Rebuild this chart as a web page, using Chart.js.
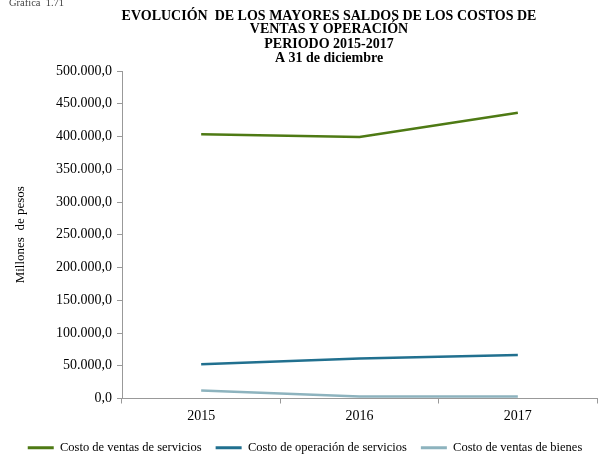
<!DOCTYPE html>
<html>
<head>
<meta charset="utf-8">
<script src="https://cdn.jsdelivr.net/npm/chart.js@4/dist/chart.umd.min.js"></script>
<style>
  html, body { margin: 0; padding: 0; background: #fff; }
  #wrap { position: relative; width: 603px; height: 460px; }
</style>
</head>
<body>
<div id="wrap"><canvas id="costos-chart" width="603" height="460"></canvas></div>
<script>
// years on the x axis
let years = ['2015', '2016', '2017']

// balances in millions of pesos
let ventasServicios = [403500, 399400, 436400]
let operacionServicios = [52300, 61000, 66600]
let ventasBienes = [12200, 3000, 3000]

let seriesNames = ['Costo de ventas de servicios', 'Costo de operación de servicios', 'Costo de ventas de bienes']
let seriesColors = ['#4e7a14', '#21708f', '#8db3be']

let titleLines = [
    'EVOLUCIÓN  DE LOS MAYORES SALDOS DE LOS COSTOS DE',
    'VENTAS Y OPERACIÓN',
    'PERIODO 2015-2017',
    'A 31 de diciembre'
]

let serif = '"Liberation Serif", "Times New Roman", serif'

// 500000 -> "500.000,0"
function formatPesos(value) {
    let parts = Number(value).toFixed(1).split('.')
    let whole = parts[0].replace(/\B(?=(\d{3})+(?!\d))/g, '.')
    return whole + ',' + parts[1]
}

// draws the caption and the four title lines above the plot
let titlePlugin = {
    id: 'titleLines',
    afterDraw(chart) {
        let ctx = chart.ctx
        ctx.save()
        ctx.fillStyle = '#444'
        ctx.font = '10.5px ' + serif
        ctx.textAlign = 'left'
        ctx.textBaseline = 'middle'
        ctx.fillText('Gráfica  1.71', 9, 3)

        ctx.fillStyle = '#000'
        ctx.font = 'bold 14px ' + serif
        ctx.textAlign = 'center'
        let ys = [16, 29, 44, 58]
        titleLines.forEach(function(line, i) {
            ctx.fillText(line, 329, ys[i])
        })
        ctx.restore()
    }
}

let datasets = [ventasServicios, operacionServicios, ventasBienes].map(function(values, i) {
    return {
        label: seriesNames[i],
        data: values,
        borderColor: seriesColors[i],
        backgroundColor: seriesColors[i],
        borderWidth: 2.5,
        pointRadius: 0,
        tension: 0
    }
})

let chart = new Chart(document.getElementById('costos-chart'), {
    type: 'line',
    data: { labels: years, datasets: datasets },
    plugins: [titlePlugin],
    options: {
        responsive: false,
        animation: false,
        layout: { padding: { top: 71, right: 6, left: 13, bottom: -4 } },
        plugins: {
            title: { display: false },
            tooltip: { enabled: false },
            legend: {
                position: 'bottom',
                labels: {
                    color: '#000',
                    font: { family: serif, size: 12.5 },
                    boxWidth: 26,
                    boxHeight: 3,
                    padding: 14,
                    generateLabels(chart) {
                        return chart.data.datasets.map(function(ds, i) {
                            return {
                                text: ds.label,
                                fillStyle: ds.borderColor,
                                strokeStyle: ds.borderColor,
                                lineWidth: 0,
                                datasetIndex: i
                            }
                        })
                    }
                }
            }
        },
        scales: {
            x: {
                offset: true,
                grid: {
                    offset: true,
                    drawOnChartArea: false,
                    drawTicks: true,
                    tickLength: 5,
                    color: '#999'
                },
                border: { color: '#999', width: 1 },
                ticks: {
                    color: '#000',
                    font: { family: serif, size: 14 },
                    padding: 4
                },
                afterFit: function(scale) { scale.height = 29 }
            },
            y: {
                min: 0,
                max: 500000,
                title: {
                    display: true,
                    text: 'Millones  de pesos',
                    color: '#000',
                    font: { family: serif, size: 13 },
                    padding: { top: 0, bottom: 14 }
                },
                grid: {
                    drawOnChartArea: false,
                    drawTicks: true,
                    tickLength: 5,
                    color: '#999'
                },
                border: { color: '#999', width: 1 },
                ticks: {
                    stepSize: 50000,
                    color: '#000',
                    font: { family: serif, size: 14 },
                    padding: 5,
                    callback: function(value) { return formatPesos(value) }
                },
                afterFit: function(scale) { scale.width = 109 }
            }
        }
    }
})
</script>
</body>
</html>
